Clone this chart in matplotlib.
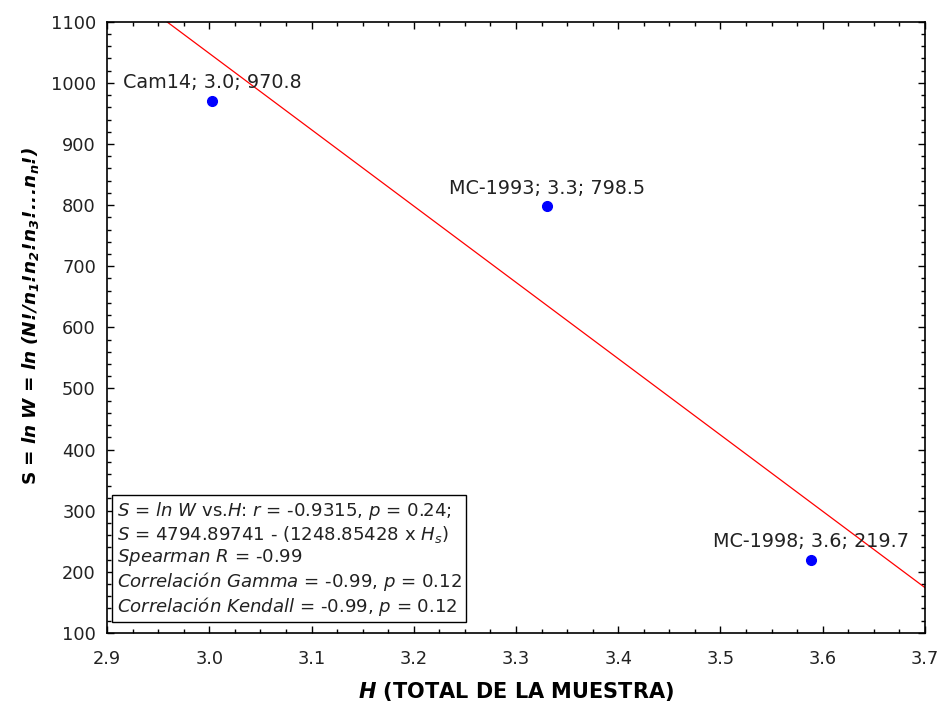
import matplotlib
matplotlib.use("Agg")
import matplotlib.pyplot as plt
import numpy as np
from matplotlib.ticker import MultipleLocator

plt.rcParams['font.family'] = ['DejaVu Sans']
plt.rcParams['mathtext.fontset'] = 'custom'
plt.rcParams['mathtext.rm'] = 'DejaVu Sans'
plt.rcParams['mathtext.it'] = 'DejaVu Sans:italic'
plt.rcParams['mathtext.bf'] = 'DejaVu Sans:bold'
plt.rcParams['mathtext.bfit'] = 'DejaVu Sans:bold:italic'

# Data points (H, S)
names = ["Cam14", "MC-1993", "MC-1998"]
h_vals = [3.003, 3.330, 3.589]
s_vals = [970.8, 798.5, 219.7]
h_labels = ["3.0", "3.3", "3.6"]

# Regression S = a - b*H
a = 4794.89741
b = 1248.85428

fig = plt.figure(figsize=(9.39, 7.04), dpi=100)
ax = fig.add_axes([0.114, 0.101, 0.871, 0.868])

hx = np.array([2.9, 3.7])
ax.plot(hx, a - b * hx, color='red', lw=0.9)
ax.plot(h_vals, s_vals, 'o', color='blue', ms=7, mec='blue')

for n, hl, x, y in zip(names, h_labels, h_vals, s_vals):
    ax.annotate(f"{n}; {hl}; {y:.1f}", (x, y), xytext=(0, 6), textcoords='offset points',
                ha='center', va='bottom', fontsize=13.8, color='#222222')

ax.set_xlim(2.9, 3.7)
ax.set_ylim(100, 1100)
ax.xaxis.set_major_locator(MultipleLocator(0.1))
ax.xaxis.set_minor_locator(MultipleLocator(0.025))
ax.yaxis.set_major_locator(MultipleLocator(100))
ax.yaxis.set_minor_locator(MultipleLocator(20))
ax.tick_params(which='both', direction='in', top=True, right=True, labelsize=12.8,
               width=1, labelcolor='#222222')
ax.tick_params(which='major', length=5, pad=8)
ax.tick_params(axis='x', which='major', pad=12)
ax.tick_params(which='minor', length=3)
ax.xaxis.set_major_formatter(plt.FuncFormatter(lambda v, p: f"{v:.1f}"))
for sp in ax.spines.values():
    sp.set_linewidth(1.2)

ax.set_xlabel(r"$\mathbfit{H}$ (TOTAL DE LA MUESTRA)", fontsize=15, fontweight='bold', labelpad=9)
ax.set_ylabel(r"S = $\mathbfit{ln\ W}$ = $\mathbfit{ln\ (N!\!/n_1!\!n_2!\!n_3!\!.\!.\!.\!n_n!\!)}$",
              fontsize=13.2, fontweight='bold')
ax.yaxis.set_label_coords(-0.081, 0.519)

stats = ("$S$ = $ln\\ W$ vs.$H$: $r$ = -0.9315, $p$ = 0.24;\n"
         "$S$ = 4794.89741 - (1248.85428 x $H_s$)\n"
         "$Spearman\\ R$ = -0.99\n"
         "$Correlación\\ Gamma$ = -0.99, $p$ = 0.12\n"
         "$Correlación\\ Kendall$ = -0.99, $p$ = 0.12")
ax.text(0.012, 0.025, stats, transform=ax.transAxes, ha='left', va='bottom', fontsize=13.1,
        color='#222222', linespacing=1.12,
        bbox=dict(boxstyle='square,pad=0.25', fc='white', ec='black', lw=1))

fig.savefig("out.png", dpi=100)
